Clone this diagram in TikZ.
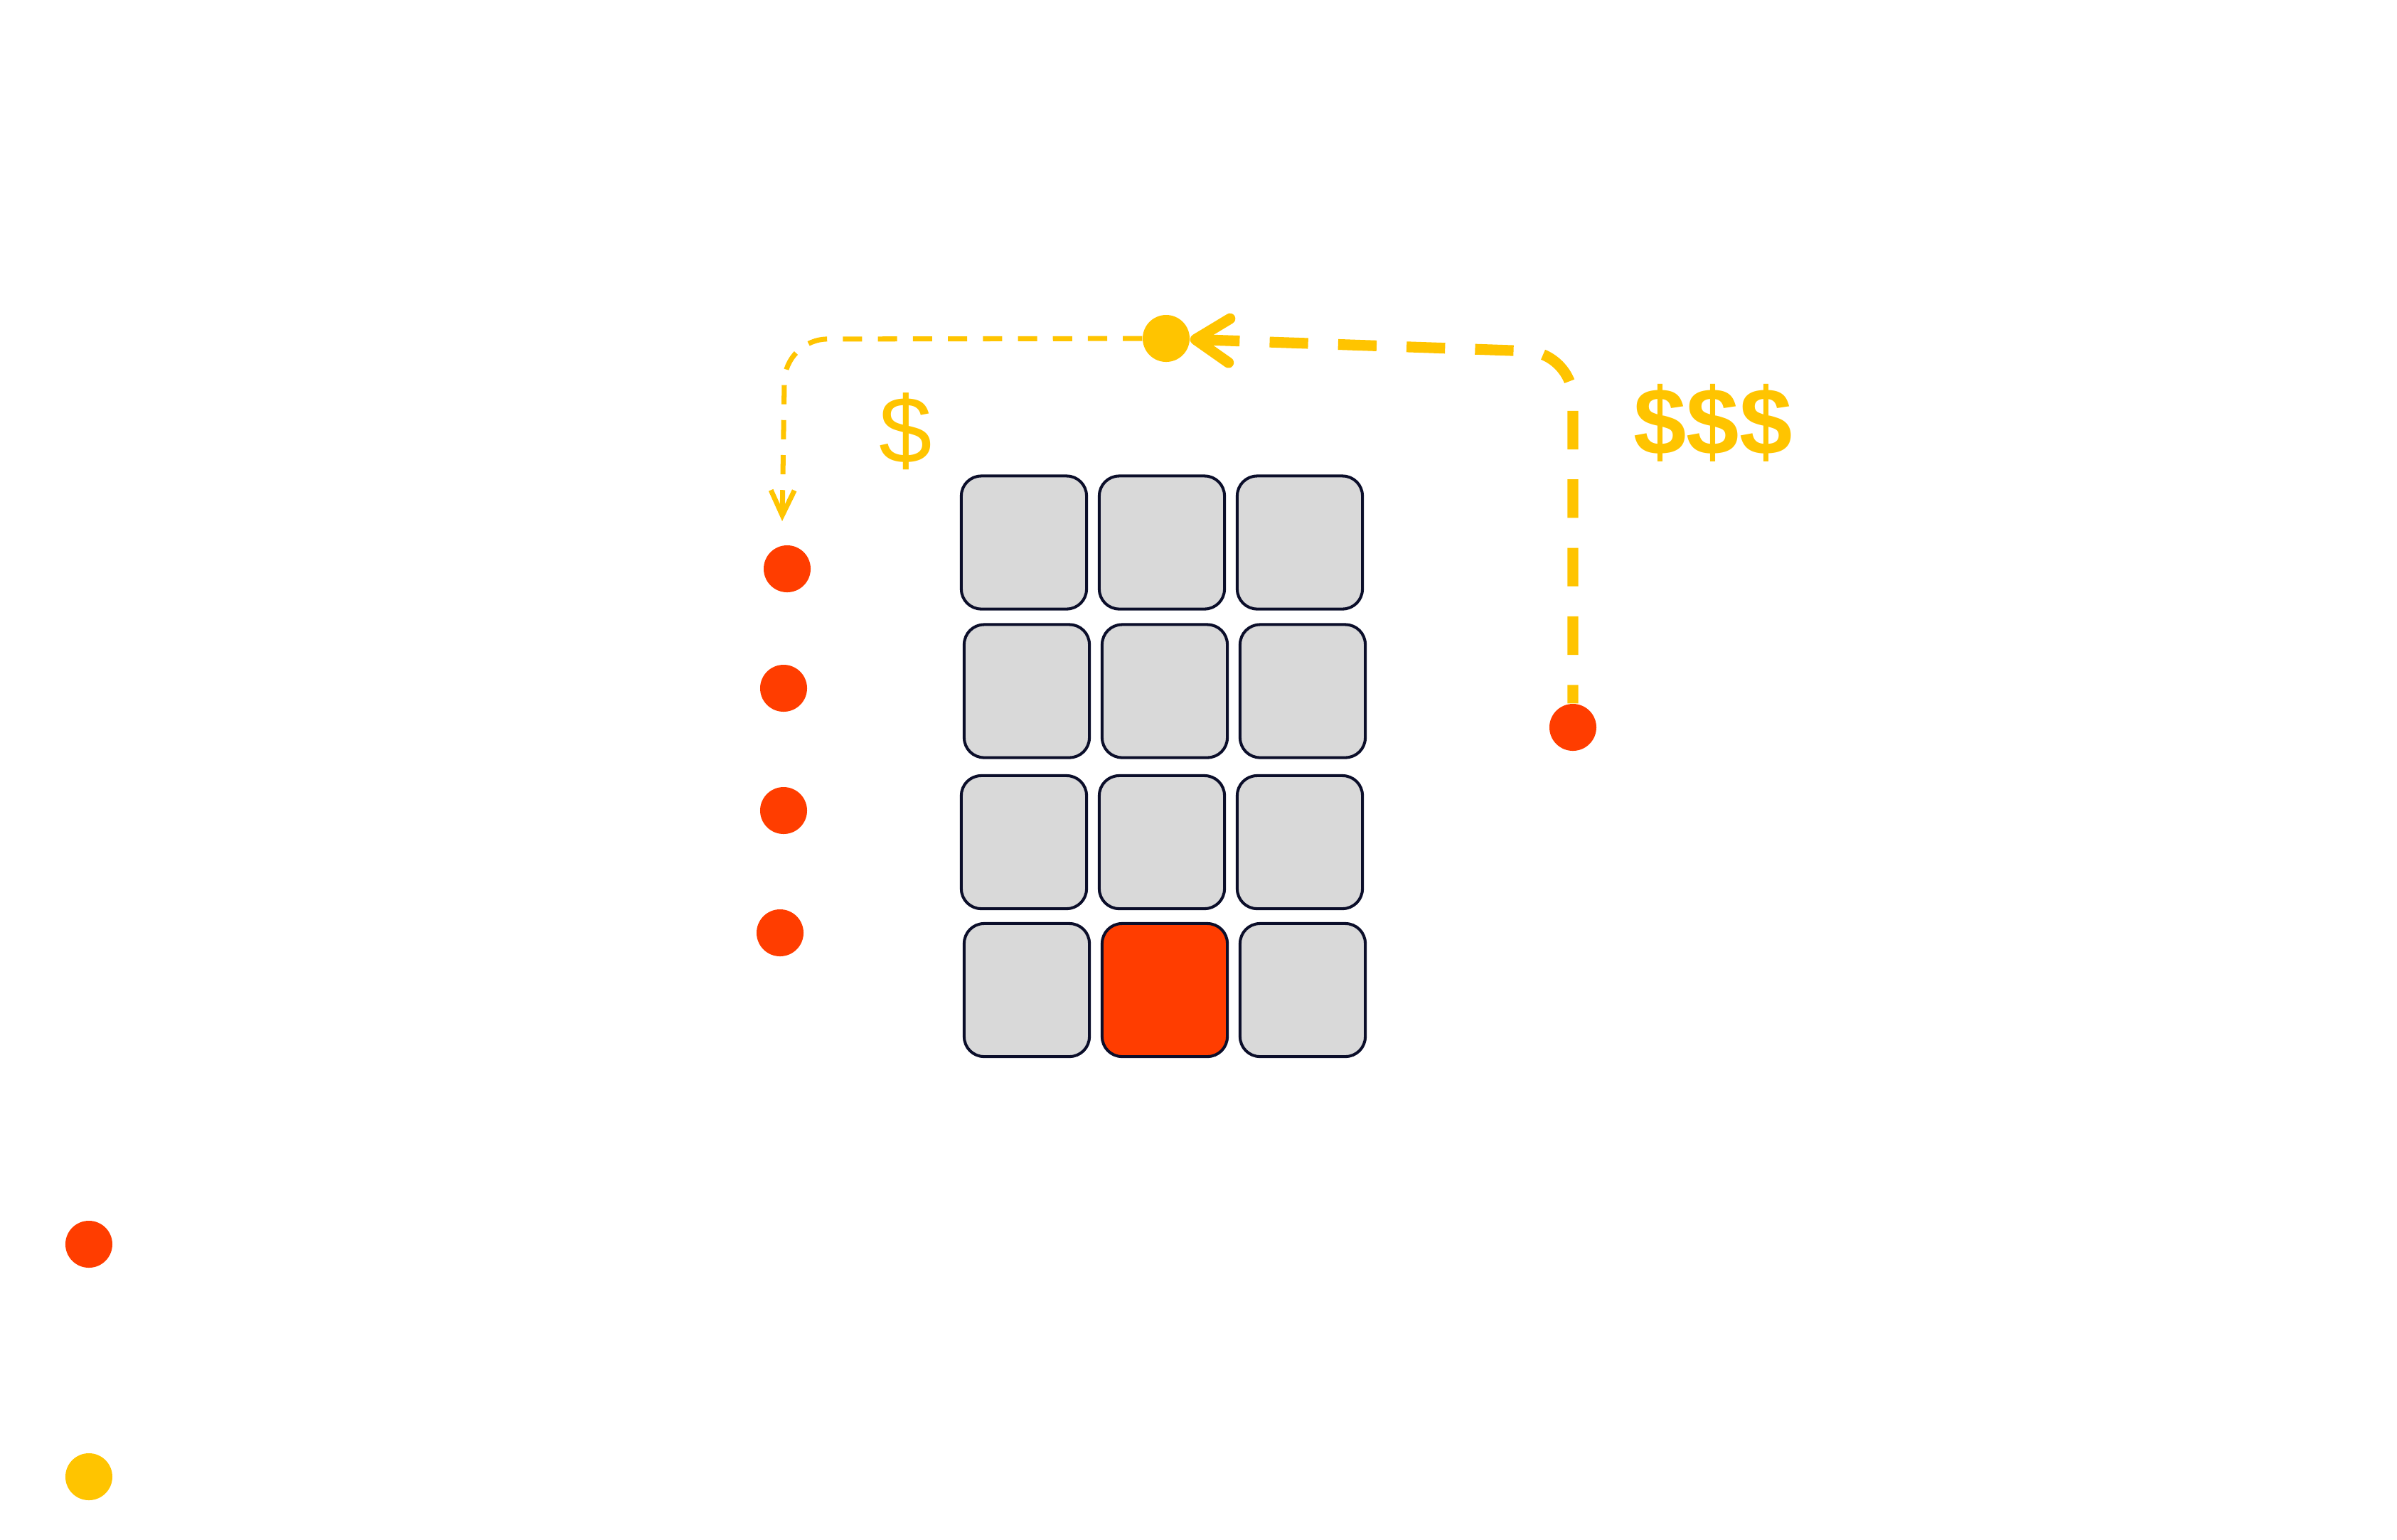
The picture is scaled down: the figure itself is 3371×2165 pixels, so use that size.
\documentclass[tikz,border=0pt]{standalone}
\usepackage{fontspec}
\setmainfont{Liberation Sans}
\usetikzlibrary{arrows.meta}
\definecolor{flame}{HTML}{FF3D00}
\definecolor{gold}{HTML}{FFC400}
\definecolor{tile}{HTML}{D9D9D9}
\definecolor{ink}{HTML}{0B0E2A}
\tikzset{
  cellbox/.style={draw=ink, line width=1.15pt, rounded corners=0.28cm,
    minimum width=1.76cm, minimum height=1.87cm, inner sep=0pt},
  chip/.style={circle, fill=#1, minimum size=0.66cm, inner sep=0pt},
  bigtrail/.style={gold, line width=4.3pt, dash pattern=on 15.4pt off 12pt,
    dash phase=8pt, rounded corners=0.65cm,
    -{Straight Barb[length=13.5pt,width=17.6pt,round]}},
  smalltrail/.style={gold, line width=2pt, dash pattern=on 7.7pt off 6.3pt,
    rounded corners=0.6cm, -{Straight Barb[length=10pt,width=9.4pt]}}
}
\begin{document}
\begin{tikzpicture}[x=0.01cm, y=-0.01cm]
  \useasboundingbox (0,0) rectangle (3371,2165);
  % grid of seats
  \foreach \row/\y/\dx in {1/763/0, 2/972/4, 3/1184.5/0, 4/1392.5/4} {
    \foreach \col/\x in {1/1440, 2/1634, 3/1828} {
      \def\shade{tile}
      \ifnum\row=4 \ifnum\col=2 \def\shade{flame}\fi\fi
      \node[cellbox, fill=\shade] (cell-\row-\col) at (\x+\dx,\y) {};
    }
  }
  % queue
  \node[chip=flame] (q1) at (1107,800)  {};
  \node[chip=flame] (q2) at (1102,968)  {};
  \node[chip=flame] (q3) at (1102,1140) {};
  \node[chip=flame] (q4) at (1097,1312) {};
  \node[chip=flame] (vip) at (2212,1023) {};
  \node[chip=gold]  (hub) at (1640,476)  {};
  % legend
  \node[chip=flame] (keyA) at (125,1750) {};
  \node[chip=gold]  (keyB) at (125,2077) {};
  % prices
  \node[gold, font=\fontsize{38}{42}\selectfont] (cheap) at (1274,607) {\$};
  \node[gold, font=\bfseries\fontsize{38}{42}\selectfont] (pricey) at (2409,595) {\$\$\$};
  % routes
  \coordinate (bendR) at (2212,496);
  \coordinate (bendL) at (1104,477);
  \coordinate (tipA)  at (1100,733);
  \draw[bigtrail] (vip) -- (bendR) -- (hub);
  \draw[smalltrail] (hub) -- (bendL) -- (tipA);
\end{tikzpicture}
\end{document}
